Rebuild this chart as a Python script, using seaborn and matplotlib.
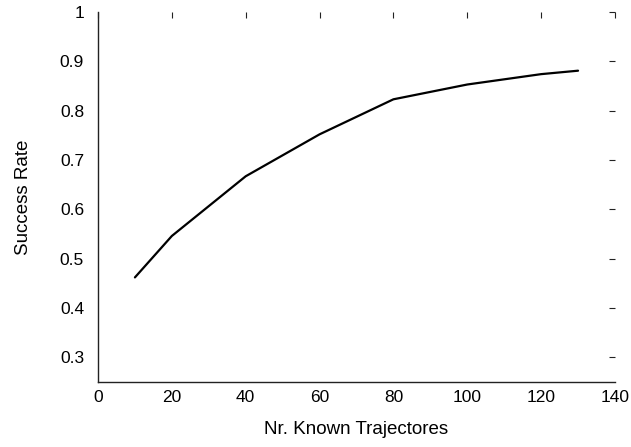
import matplotlib
matplotlib.use("Agg")
import matplotlib.pyplot as plt
import seaborn as sns
import pandas as pd

# Success rate as a function of the number of known trajectories
known_trajectories = [10, 20, 40, 60, 80, 100, 120, 130]
success_rate = [0.462, 0.546, 0.667, 0.752, 0.823, 0.853, 0.874, 0.881]

x_ticks = [0, 20, 40, 60, 80, 100, 120, 140]
y_ticks = [0.3, 0.4, 0.5, 0.6, 0.7, 0.8, 0.9, 1.0]
y_tick_labels = ["0.3", "0.4", "0.5", "0.6", "0.7", "0.8", "0.9", "1"]

sns.set_theme(style="white")
plt.rcParams["font.family"] = ["Liberation Sans", "DejaVu Sans"]

df = pd.DataFrame({"x": known_trajectories, "y": success_rate})

fig = plt.figure(figsize=(6.31, 4.47), dpi=100)
ax = fig.add_axes([0.1553, 0.1454, 0.8193, 0.8278])

sns.lineplot(data=df, x="x", y="y", ax=ax, color="black", linewidth=1.6)

ax.set_xlim(0, 140)
ax.set_ylim(0.25, 1.0)
ax.set_xticks(x_ticks)
ax.set_yticks(y_ticks)
ax.set_yticklabels(y_tick_labels)

for side in ("top", "right"):
    ax.spines[side].set_visible(False)
for side in ("left", "bottom"):
    ax.spines[side].set_color("#222222")
    ax.spines[side].set_linewidth(1.0)

ax.tick_params(axis="both", which="major", direction="in", length=4, width=0.8,
               color="#222222", labelsize=12.5, labelcolor="black",
               top=True, right=True)
ax.tick_params(axis="x", pad=6)
ax.tick_params(axis="y", pad=10)

ax.set_xlabel("Nr. Known Trajectores", fontsize=13.5, color="black", labelpad=11)
ax.set_ylabel("Success Rate", fontsize=13.5, color="black", labelpad=20)

fig.savefig("out.png", dpi=100, facecolor="white")
